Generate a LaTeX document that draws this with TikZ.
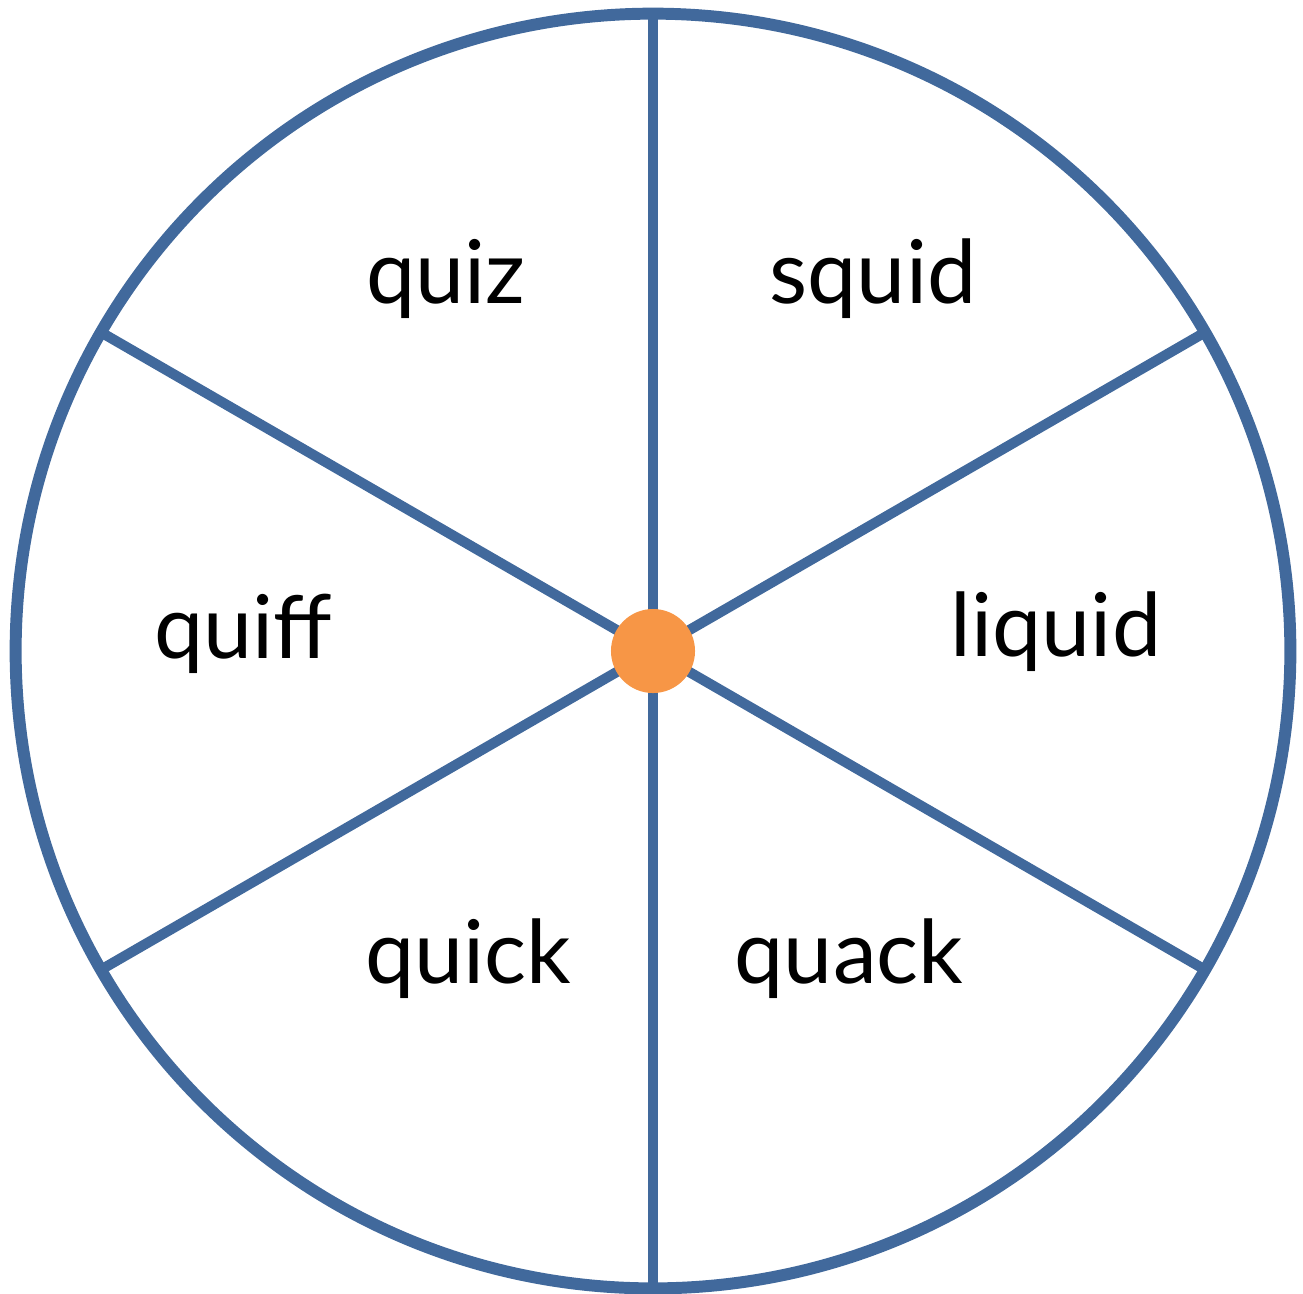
\documentclass[tikz,border=0pt]{standalone}
\usepackage{fontspec}
\setmainfont{Lato}
\definecolor{wheelblue}{HTML}{41699C}
\definecolor{huborange}{HTML}{F79646}
\begin{document}
\begin{tikzpicture}[x=0.01cm, y=-0.01cm,
    rim/.style={draw=wheelblue, line width=3.4pt},
    spoke/.style={draw=wheelblue, line width=2.9pt},
    word/.style={anchor=base, font=\fontsize{25}{29}\selectfont, inner sep=0pt}]
            \useasboundingbox (0,0) rectangle (1303,1293);
            \coordinate (hub) at (653,651);

            \draw[rim] (hub) circle (6.37cm);
            \foreach \a in {90,30,-30,-90,-150,150}
                \draw[spoke] (hub) -- ++(\a:6.37cm);
            \node (dot) [circle, fill=huborange, minimum size=0.84cm, inner sep=0pt] at (hub) {};

            \node (quiz) [word] at (446,303) {quiz};
            \node (squid) [word] at (873,303) {squid};
            \node (quiff) [word] at (243,658) {quiff};
            \node (liquid) [word] at (1056,656) {liquid};
            \node (quick) [word] at (468,983) {quick};
            \node (quack) [word] at (849,983) {quack};
        \end{tikzpicture}
\end{document}
